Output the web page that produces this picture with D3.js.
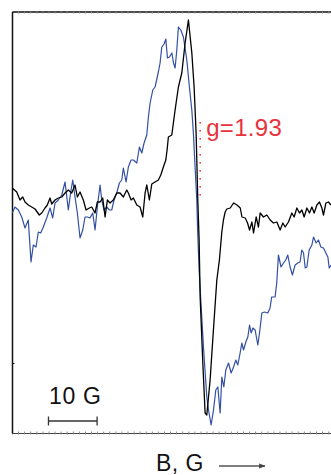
<!DOCTYPE html>
<html>
<head>
<meta charset="utf-8">
<script src="https://cdn.jsdelivr.net/npm/d3@7"></script>
<style>
  html, body { margin: 0; padding: 0; background: #fff; }
  svg { display: block; }
  text { font-family: "Liberation Sans", Arial, Helvetica, sans-serif; }
</style>
</head>
<body>
<svg id="chart" width="331" height="475"></svg>
<script>
// EPR spectra: magnetic field offset (G) and first-derivative signal (a.u.)
const blackField = [0.06,0.97,1.65,2.2,2.68,3.35,4.05,4.73,5.62,6.11,6.79,7.26,7.82,8.17,8.85,9.53,10.23,10.91,11.58,12.28,12.96,13.44,13.99,14.67,15.23,15.91,16.4,17.08,17.55,18.11,18.66,19.14,19.61,20.16,20.84,21.54,22.22,22.9,23.6,23.93,24.49,24.96,25.66,26.34,26.89,27.37,27.72,28.25,28.75,29.42,30.1,30.6,31.13,31.63,31.89,32.16,32.86,33.54,34.22,34.92,35.6,36.28,36.98,37.45,37.86,38.21,38.48,38.69,39.24,39.71,40.06,40.74,41.42,42.12,42.65,43.15,43.48,43.83,44.18,44.88,45.56,46.26,46.94,47.29,47.97,48.44,48.85,49.34,49.67,50.21,50.68,51.03,51.71,52.41,53.09,53.77,54.47,55.14,55.7,56.17,56.85,57.55,58.02,58.58,59.12,59.61,60.08,60.64,61.17,61.67,62.14,62.7,63.23,63.72,64.05,64.55,65.08,65.58];
const blackSignal = [15,11,3,6,1,-2,-4,-6,-12,-10,-5,-2,5,-1,3,5,6,10,13,10,18,6,11,3,-7,-5,-4,-10,1,1,5,-14,3,0,3,10,10,6,13,10,3,5,-2,-4,-14,10,18,3,19,21,23,28,36,43,53,66,68,93,116,130,160,183,150,116,70,3,-37,-94,-160,-210,-212,-177,-127,-77,-57,-29,-17,-9,-6,-5,0,-2,-5,-14,-15,-20,-27,-19,-30,-14,-24,-10,-14,-12,-17,-20,-19,-27,-20,-24,-19,-10,-14,-5,-10,-7,-14,-5,-10,-4,-10,-2,1,-5,-12,0,1,-2];

const blueField = [0.06,0.62,1.3,2.0,2.67,3.35,3.91,4.38,4.94,5.41,5.9,6.44,7.14,7.82,8.37,8.85,9.53,10.23,10.91,11.58,12.08,12.49,12.96,13.44,13.99,14.55,15.02,15.5,16.05,16.6,17.08,17.55,18.11,18.46,18.93,19.49,20.02,20.51,20.99,21.54,22.08,22.57,22.9,23.46,23.93,24.49,24.96,25.66,26.2,26.69,27.16,27.72,28.05,28.4,28.95,29.42,30.1,30.45,30.8,31.28,31.63,31.97,32.39,32.88,33.21,33.54,33.89,34.22,34.71,35.25,35.95,36.48,36.98,37.3,37.65,38.0,38.17,38.48,39.37,40.06,40.41,40.95,41.44,41.91,42.33,42.8,43.15,43.56,43.97,44.53,45.06,45.56,46.03,46.44,46.91,47.26,47.61,48.09,48.5,48.85,49.18,49.53,50.0,50.55,50.9,51.38,51.91,52.6,53.06,53.4,54.1,54.44,54.79,55.32,55.82,56.3,56.71,57.19,57.66,58.22,58.77,59.24,59.6,59.95,60.3,60.64,61.11,61.67,62.0,62.55,63.02,63.52,64.05,64.55,64.96,65.23,65.64];
const blueSignal = [-10,-4,-7,-14,-25,-17,-59,-42,-44,-29,-30,-24,-15,-5,-15,0,3,8,21,-7,11,23,6,-10,-35,-27,-14,-14,-15,-10,-27,-4,18,3,-7,-4,-7,-7,3,10,20,23,35,21,36,43,43,40,56,50,60,68,86,100,113,116,131,140,156,159,164,145,146,150,140,135,153,176,173,166,143,116,93,70,36,3,-27,-67,-144,-194,-207,-222,-207,-187,-184,-210,-174,-184,-167,-160,-170,-164,-157,-162,-150,-140,-147,-139,-134,-122,-130,-125,-127,-142,-130,-110,-109,-110,-105,-94,-94,-80,-52,-64,-60,-57,-52,-64,-72,-62,-60,-59,-47,-50,-65,-64,-47,-42,-34,-40,-37,-44,-45,-50,-54,-65,-62];

// Marker for the g-factor position
const gLabel = "g=1.93";
const gField = 38.7;
const gSignalRange = [1, 81];

// Scale bar
const scaleBarField = [7.5, 17.5];
const scaleBarLabel = "10 G";
const axisLabel = "B, G";
const leftTickValues = [-160];

const svg = d3.select("#chart");
const plot = { left: 12, right: 331, top: 11.5, bottom: 433 };

const x = d3.scaleLinear().domain([0, 65.6]).range([plot.left, plot.right]);
const y = d3.scaleLinear().domain([-230, 191.5]).range([plot.bottom, plot.top]);

// Axes: bare frame lines with small minor ticks
const minorTicks = d3.range(0, 66, 1.25);

svg.append("g")
  .attr("transform", `translate(0,${plot.bottom})`)
  .call(d3.axisBottom(x).tickValues(minorTicks).tickSize(2).tickSizeOuter(0).tickFormat(""))
  .call(g => g.select(".domain").attr("stroke", "#444").attr("stroke-width", 1.2))
  .call(g => g.selectAll(".tick line").attr("stroke", "#888").attr("y1", -1.5).attr("y2", 1.5));

svg.append("g")
  .attr("transform", `translate(0,${plot.top})`)
  .call(d3.axisTop(x).tickValues(minorTicks).tickSize(-2).tickSizeOuter(0).tickFormat(""))
  .call(g => g.select(".domain").attr("stroke", "#111").attr("stroke-width", 1.3))
  .call(g => g.selectAll(".tick line").attr("stroke", "#888"));

svg.append("g")
  .attr("transform", `translate(${plot.left},0)`)
  .call(d3.axisLeft(y).tickValues(leftTickValues).tickSize(-2.5).tickSizeOuter(0).tickFormat(""))
  .call(g => g.select(".domain").attr("stroke", "#111").attr("stroke-width", 1.5))
  .call(g => g.selectAll(".tick line").attr("stroke", "#111"));

// Spectra
const line = d3.line().x(d => x(d[0])).y(d => y(d[1]));

svg.append("path")
  .datum(d3.zip(blueField, blueSignal))
  .attr("fill", "none")
  .attr("stroke", "#3350a3")
  .attr("stroke-width", 1.2)
  .attr("stroke-linejoin", "round")
  .attr("d", line);

svg.append("path")
  .datum(d3.zip(blackField, blackSignal))
  .attr("fill", "none")
  .attr("stroke", "#000")
  .attr("stroke-width", 1.3)
  .attr("stroke-linejoin", "round")
  .attr("d", line);

// g-factor marker
svg.append("line")
  .attr("x1", x(gField)).attr("x2", x(gField))
  .attr("y1", y(gSignalRange[1])).attr("y2", y(gSignalRange[0]))
  .attr("stroke", "#ec3a44")
  .attr("stroke-width", 1.6)
  .attr("stroke-dasharray", "1.6 6.4");

svg.append("text")
  .attr("x", x(gField) + 6)
  .attr("y", y(gSignalRange[1]) + 13.5)
  .attr("fill", "#e8323c")
  .attr("font-size", 24)
  .attr("letter-spacing", 0.3)
  .text(gLabel);

// Scale bar
const barY = 421;
const sb = svg.append("g").attr("stroke", "#333").attr("stroke-width", 1.3);
sb.append("line").attr("x1", x(scaleBarField[0])).attr("x2", x(scaleBarField[1])).attr("y1", barY).attr("y2", barY);
sb.selectAll("line.cap").data(scaleBarField).join("line")
  .attr("class", "cap")
  .attr("x1", d => x(d)).attr("x2", d => x(d))
  .attr("y1", barY - 4.5).attr("y2", barY + 4.5);

svg.append("text")
  .attr("x", x(scaleBarField[0]) + 0.5)
  .attr("y", 403.5)
  .attr("fill", "#111")
  .attr("font-size", 23)
  .attr("letter-spacing", 0.7)
  .text(scaleBarLabel);

// Field axis label with arrow
svg.append("text")
  .attr("x", 156)
  .attr("y", 471)
  .attr("fill", "#111")
  .attr("font-size", 23)
  .attr("letter-spacing", 0.5)
  .text(axisLabel);

svg.append("defs").append("marker")
  .attr("id", "arrowHead")
  .attr("viewBox", "0 0 10 10")
  .attr("refX", 9).attr("refY", 5)
  .attr("markerWidth", 5).attr("markerHeight", 5)
  .attr("orient", "auto")
  .append("path").attr("d", "M0,1 L10,5 L0,9 Z").attr("fill", "#444");

svg.append("line")
  .attr("x1", 219).attr("x2", 265)
  .attr("y1", 466).attr("y2", 466)
  .attr("stroke", "#555")
  .attr("stroke-width", 1.3)
  .attr("marker-end", "url(#arrowHead)");
</script>
</body>
</html>
